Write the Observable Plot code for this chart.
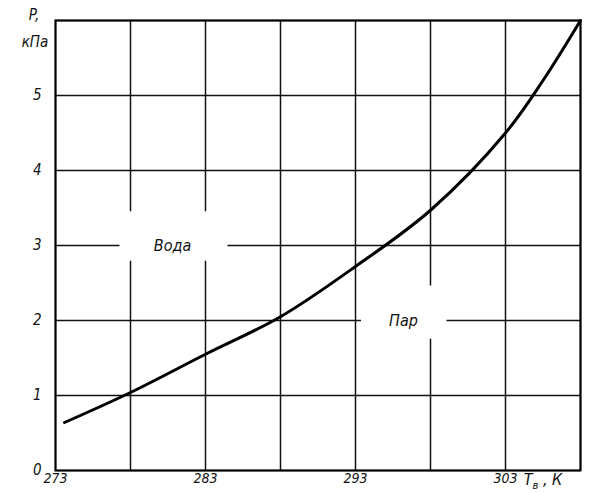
<!DOCTYPE html>
<html><head><meta charset="utf-8">
<script src="https://cdn.jsdelivr.net/npm/d3@7"></script>
<script src="https://cdn.jsdelivr.net/npm/@observablehq/plot@0.6"></script>
<style>
body{margin:0;background:#fff;}
svg{font-family:"Liberation Sans Narrow","DejaVu Sans Condensed",sans-serif;}
</style></head>
<body><div id="chart"></div>
<script>
const temps = [273.6, 278, 283, 288, 293, 298, 303, 305.5, 308];
const pressures = [0.64, 1.04, 1.55, 2.05, 2.72, 3.47, 4.5, 5.2, 6.0];
const xTicks = [273, 283, 293, 303];
const xGrid = [273, 278, 283, 288, 293, 298, 303, 308];
const yTicks = [0, 1, 2, 3, 4, 5, 6];
const yLabels = [0, 1, 2, 3, 4, 5];
const regionNames = ["Вода", "Пар"];
const regionX = [280.8, 296.2];
const regionY = [3.0, 2.0];
const regionBoxX1 = [277.3, 293.4];
const regionBoxX2 = [284.5, 299.1];
const regionBoxY1 = [2.79, 1.75];
const regionBoxY2 = [3.45, 2.46];

const curve = temps.map((t, i) => ({t, p: pressures[i]}));
const regions = regionNames.map((n, i) => ({n, x: regionX[i], y: regionY[i], x1: regionBoxX1[i], x2: regionBoxX2[i], y1: regionBoxY1[i], y2: regionBoxY2[i]}));

const plot = Plot.plot({
  width: 591, height: 493,
  marginLeft: 55, marginRight: 11, marginTop: 20, marginBottom: 23,
  x: {domain: [273, 308]},
  y: {domain: [0, 6]},
  marks: [
    Plot.ruleX(xGrid, {stroke: "#111", strokeWidth: 1.5}),
    Plot.ruleY(yTicks, {stroke: "#111", strokeWidth: 1.5}),
    Plot.rect(regions, {x1: "x1", x2: "x2", y1: "y1", y2: "y2", fill: "white"}),
    Plot.text(regions, {x: "x", y: "y", text: "n", fontSize: 16, fontStyle: "italic", fill: "#111"}),
    Plot.line(curve, {x: "t", y: "p", curve: "catmull-rom", stroke: "#000", strokeWidth: 3}),
    Plot.frame({stroke: "#000", strokeWidth: 2}),
    Plot.axisX(xTicks, {tickSize: 0, tickPadding: 3, fontSize: 14, fontStyle: "italic", fill: "#111", label: null, tickFormat: d => String(d)}),
    Plot.axisY(yLabels, {tickSize: 0, tickPadding: 14, fontSize: 15, fontStyle: "italic", fill: "#111", label: null, tickFormat: d => String(d)})
  ]
});
document.getElementById("chart").appendChild(plot);
const svg = d3.select(plot);
svg.append("text").attr("x", 34).attr("y", 20).attr("text-anchor", "middle")
  .attr("font-size", 15).attr("font-style", "italic").attr("fill", "#111").text("P,");
svg.append("text").attr("x", 35).attr("y", 47).attr("text-anchor", "middle")
  .attr("font-size", 15).attr("font-style", "italic").attr("fill", "#111").text("кПа");
const xl = svg.append("text").attr("x", 543).attr("y", 485)
  .attr("font-size", 16).attr("font-style", "italic").attr("fill", "#111");
xl.append("tspan").text("T");
xl.append("tspan").attr("font-size", 11).attr("dy", 4).text("в");
xl.append("tspan").attr("dy", -4).text(" , К");
</script></body></html>
